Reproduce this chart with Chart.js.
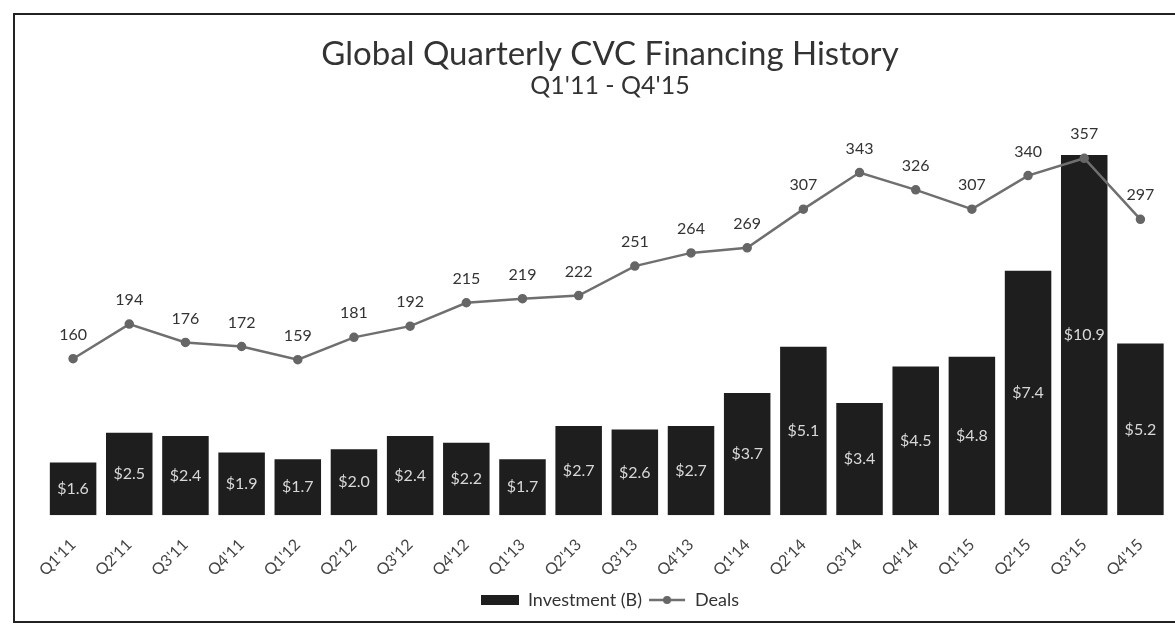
<!DOCTYPE html>
<html>
<head>
<meta charset="utf-8">
<script src="https://cdn.jsdelivr.net/npm/chart.js@4"></script>
<style>
  html, body { margin: 0; padding: 0; background: #fff; }
  #wrap { position: relative; width: 1175px; height: 625px; overflow: hidden; }
  #frame { position: absolute; left: 13px; top: 13px; width: 1200px; height: 610px; border: 2px solid #222; box-sizing: border-box; }
  canvas { position: absolute; left: 0; top: 0; }
</style>
</head>
<body>
<div id="wrap">
  <div id="frame"></div>
  <canvas id="cvcChart" width="1175" height="625"></canvas>
</div>
<script>
// quarters on the x axis
const quarters = ["Q1'11", "Q2'11", "Q3'11", "Q4'11", "Q1'12", "Q2'12", "Q3'12", "Q4'12",
                  "Q1'13", "Q2'13", "Q3'13", "Q4'13", "Q1'14", "Q2'14", "Q3'14", "Q4'14",
                  "Q1'15", "Q2'15", "Q3'15", "Q4'15"];

// investment in $B (bars)
const investment = [1.6, 2.5, 2.4, 1.9, 1.7, 2.0, 2.4, 2.2, 1.7, 2.7,
                    2.6, 2.7, 3.7, 5.1, 3.4, 4.5, 4.8, 7.4, 10.9, 5.2];

// number of deals (line)
const deals = [160, 194, 176, 172, 159, 181, 192, 215, 219, 222,
               251, 264, 269, 307, 343, 326, 307, 340, 357, 297];

const FONT = "Lato, 'Open Sans', sans-serif";

// little legend symbols
function makeSymbol(kind) {
    const c = document.createElement('canvas');
    c.width = 38; c.height = 12;
    const g = c.getContext('2d');
    if (kind === 'bar') {
        g.fillStyle = '#1e1e1e';
        g.fillRect(0, 1, 38, 10);
    } else {
        g.strokeStyle = '#6f6f6f';
        g.lineWidth = 2.5;
        g.beginPath(); g.moveTo(1, 6); g.lineTo(37, 6); g.stroke();
        g.fillStyle = '#666';
        g.beginPath(); g.arc(19, 6, 4, 0, Math.PI * 2); g.fill();
    }
    return c;
}

// draws the value labels on bars and above points
const valueLabels = {
    id: 'valueLabels',
    afterDatasetsDraw(chart) {
        const ctx = chart.ctx;
        ctx.save();
        ctx.textAlign = 'center';
        ctx.textBaseline = 'middle';

        ctx.font = '16px ' + FONT;
        chart.getDatasetMeta(0).data.forEach((bar, i) => {
            const mid = (bar.y + bar.base) / 2;
            ctx.fillStyle = '#d8d8d8';
            ctx.fillText('$' + investment[i].toFixed(1), bar.x, mid);
        });

        chart.getDatasetMeta(1).data.forEach((pt, i) => {
            ctx.fillStyle = '#333';
            ctx.fillText(String(deals[i]), pt.x, pt.y - 24);
        });
        ctx.restore();
    }
};

const ctx = document.getElementById('cvcChart').getContext('2d');
new Chart(ctx, {
    data: {
        labels: quarters,
        datasets: [{
            type: 'bar',
            label: 'Investment (B)',
            data: investment,
            backgroundColor: '#1e1e1e',
            barPercentage: 0.9,
            categoryPercentage: 0.92,
            yAxisID: 'yBar',
            order: 2
        }, {
            type: 'line',
            label: 'Deals',
            data: deals,
            borderColor: '#6f6f6f',
            borderWidth: 2.5,
            pointBackgroundColor: '#666',
            pointBorderColor: '#666',
            pointRadius: 3.5,
            tension: 0,
            yAxisID: 'yLine',
            order: 1
        }]
    },
    options: {
        responsive: false,
        animation: false,
        layout: { padding: { top: 35, left: 45, right: 0, bottom: 6 } },
        plugins: {
            title: {
                display: true,
                text: 'Global Quarterly CVC Financing History',
                color: '#333',
                font: { family: FONT, size: 33, weight: 'normal' },
                padding: { top: 0, bottom: -4 }
            },
            subtitle: {
                display: true,
                text: "Q1'11 - Q4'15",
                color: '#333',
                font: { family: FONT, size: 25, weight: 'normal' },
                padding: { top: 0, bottom: 18 }
            },
            legend: {
                position: 'bottom',
                labels: {
                    usePointStyle: true,
                    pointStyleWidth: 38,
                    boxHeight: 12,
                    color: '#333',
                    font: { family: FONT, size: 18 },
                    padding: 6,
                    generateLabels() {
                        return [
                            { text: 'Investment (B)', pointStyle: makeSymbol('bar'), datasetIndex: 0, fontColor: '#333', lineWidth: 0 },
                            { text: 'Deals', pointStyle: makeSymbol('line'), datasetIndex: 1, fontColor: '#333', lineWidth: 0 }
                        ];
                    }
                }
            },
            tooltip: { enabled: false }
        },
        scales: {
            x: {
                grid: { display: false },
                border: { display: false },
                ticks: {
                    color: '#444',
                    font: { family: FONT, size: 16 },
                    minRotation: 45,
                    maxRotation: 45,
                    padding: 12
                },
                // measured label box is taller than the drawn text
                afterFit(scale) { scale.height -= 7; }
            },
            yBar: { display: false, min: 0, max: 12 },
            yLine: { display: false, min: 6, max: 396 }
        }
    },
    plugins: [valueLabels]
});
</script>
</body>
</html>
